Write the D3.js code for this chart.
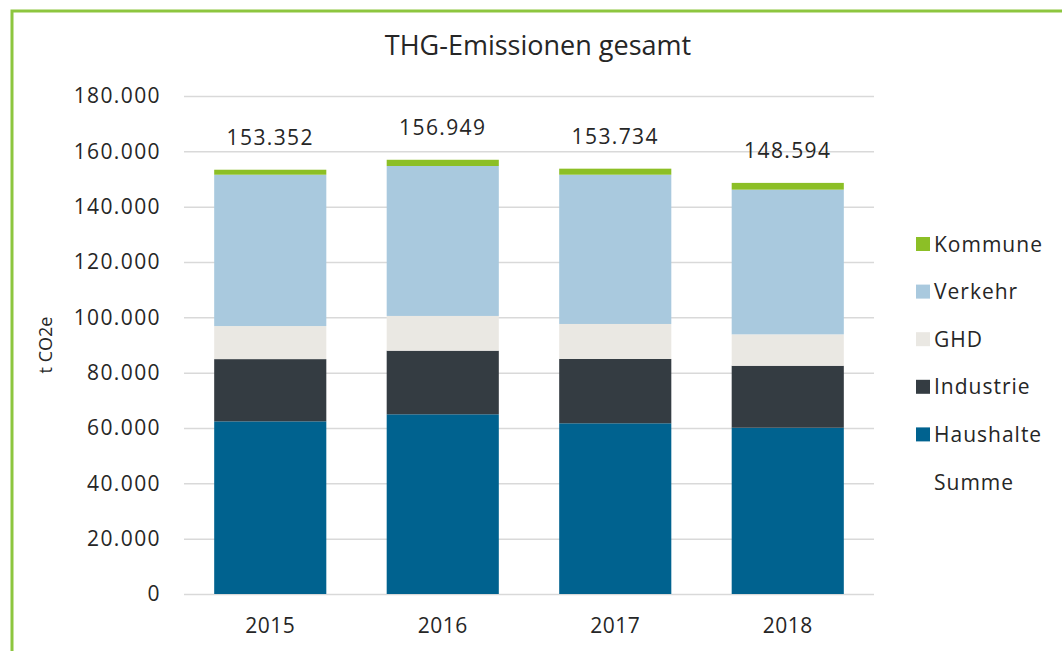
<!DOCTYPE html>
<html>
<head>
<meta charset="utf-8">
<script src="https://cdn.jsdelivr.net/npm/d3@7"></script>
<style>
  body { margin: 0; background: #fff; }
  svg text { font-family: "Open Sans", sans-serif; fill: #262626; }
</style>
</head>
<body>
<div id="chart"></div>
<script>
//data ************************************************************
var years = ["2015", "2016", "2017", "2018"];
var sectors = ["Haushalte", "Industrie", "GHD", "Verkehr", "Kommune"];
var haushalte = [62400, 64950, 61700, 60100];
var industrie = [22500, 23000, 23250, 22400];
var ghd       = [11950, 12550, 12650, 11350];
var verkehr   = [54700, 54200, 53950, 52300];
var kommune   = [1802, 2249, 2184, 2444];
var summe     = [153352, 156949, 153734, 148594];
var yTicks    = [0, 20000, 40000, 60000, 80000, 100000, 120000, 140000, 160000, 180000];
var legendOrder = ["Kommune", "Verkehr", "GHD", "Industrie", "Haushalte", "Summe"];

//variables *************************************************************
var width = 1062, height = 651;
var plotLeft = 184, plotRight = 874, plotTop = 96, plotBottom = 594;
var color = d3.scaleOrdinal()
  .domain(sectors)
  .range(["#00628f", "#343c42", "#eae8e3", "#a9c9de", "#8cbf26"]);

var rows = years.map(function(y, i) {
  return { year: y, Haushalte: haushalte[i], Industrie: industrie[i], GHD: ghd[i],
           Verkehr: verkehr[i], Kommune: kommune[i], Summe: summe[i] };
});

var x = d3.scaleBand().domain(years).range([plotLeft, plotRight])
  .paddingInner(0.35).paddingOuter(0.175);
var y = d3.scaleLinear().domain([0, 180000]).range([plotBottom, plotTop]);
var fmt = function(v) { return d3.format(",")(v).replace(/,/g, "."); };

var svg = d3.select("#chart").append("svg")
  .attr("width", width).attr("height", height);

svg.append("rect").attr("width", width).attr("height", height).attr("fill", "#fff");

//green frame
svg.append("path")
  .attr("d", "M12," + height + "L12,11L" + width + ",11")
  .attr("fill", "none").attr("stroke", "#8dc63f").attr("stroke-width", 3);

//title
svg.append("text")
  .attr("x", 538).attr("y", 55)
  .attr("text-anchor", "middle")
  .style("font-size", "27px")
  .text("THG-Emissionen gesamt");

//grid + y axis ************************************************************
var yAxis = svg.append("g")
  .attr("transform", "translate(" + plotLeft + ",0)")
  .call(d3.axisLeft(y).tickValues(yTicks).tickSize(-(plotRight - plotLeft)).tickPadding(23).tickFormat(fmt));
yAxis.select(".domain").remove();
yAxis.selectAll(".tick line").attr("stroke", "#d9d9d9").attr("stroke-width", 1.5);
yAxis.selectAll(".tick text")
  .style("font-size", "21px").style("font-family", "'Open Sans', sans-serif")
  .style("letter-spacing", "1.4px")
  .attr("fill", "#262626");

svg.append("text")
  .attr("transform", "translate(52," + 345 + ") rotate(-90)")
  .attr("text-anchor", "middle")
  .style("font-size", "18px")
  .text("t CO2e");

//bars ************************************************************
var stack = d3.stack().keys(sectors)(rows);

svg.append("g").selectAll("g")
  .data(stack)
  .enter().append("g")
  .attr("fill", function(d) { return color(d.key); })
  .selectAll("rect")
  .data(function(d) { return d; })
  .enter().append("rect")
  .attr("x", function(d) { return x(d.data.year); })
  .attr("width", x.bandwidth())
  .attr("y", function(d) { return y(d[1]); })
  .attr("height", function(d) { return y(d[0]) - y(d[1]); });

//x axis
var xAxis = svg.append("g")
  .attr("transform", "translate(0," + plotBottom + ")")
  .call(d3.axisBottom(x).tickSize(0).tickPadding(24));
xAxis.select(".domain").remove();
xAxis.selectAll(".tick text")
  .style("font-size", "21px").style("font-family", "'Open Sans', sans-serif")
  .style("letter-spacing", "0.5px")
  .attr("fill", "#262626");

//sum labels
svg.append("g").selectAll("text")
  .data(rows)
  .enter().append("text")
  .attr("x", function(d) { return x(d.year) + x.bandwidth() / 2; })
  .attr("y", function(d) { return y(d.Summe) - 25; })
  .attr("text-anchor", "middle")
  .style("font-size", "21px")
  .style("letter-spacing", "1.4px")
  .text(function(d) { return fmt(d.Summe); });

//legend ************************************************************
var legend = svg.selectAll(".legend")
  .data(legendOrder)
  .enter().append("g")
  .attr("class", "legend")
  .attr("transform", function(d, i) { return "translate(916," + (244 + i * 47.6) + ")"; });

legend.filter(function(d) { return d !== "Summe"; })
  .append("rect")
  .attr("x", 0).attr("y", -7)
  .attr("width", 14).attr("height", 14)
  .attr("fill", color);

legend.append("text")
  .attr("x", 18).attr("y", 7.5)
  .style("font-size", "21px")
  .style("letter-spacing", "1px")
  .text(function(d) { return d; });
</script>
</body>
</html>
